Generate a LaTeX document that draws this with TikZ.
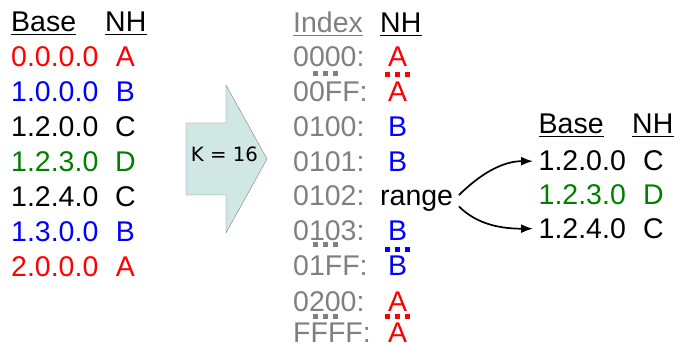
\documentclass[tikz,border=0pt]{standalone}
\usepackage{fontspec}
\setmainfont{Liberation Sans}
\newfontfamily\kfont{DejaVu Sans}
\usetikzlibrary{arrows.meta}

\definecolor{nhgreen}{RGB}{0,128,0}
\definecolor{kfill}{RGB}{208,231,227}

\begin{document}
\begin{tikzpicture}[x = 1pt, y = -1pt, > = {Latex[length = 12pt, width = 9pt]},
	every node/.style = {inner sep = 0, font = \fontsize{28.5}{34}\selectfont},
	underline/.style = {line width = 1.8pt},
	dots/.style = {line width = 5pt, dash pattern = on 5pt off 5pt},
	link/.style = {->, line width = 1.7pt, shorten < = 8pt, shorten > = 5.5pt}]

	% Margins of the picture
	
	\useasboundingbox (0, 0) rectangle (676, 347);
	
	% Definitions
	
	\def\lx{11}		% Left table, base column
	\def\lnx{125.5}		% Left table, next hop column
	\def\mx{293}		% Index column
	\def\mnx{397.5}		% Index table, next hop column
	\def\rx{538.5}		% Right table, base column
	\def\rnx{653.5}		% Right table, next hop column

	% Left table: prefixes and their next hops
	
	\node [anchor = base west] (l-base) at (\lx, 32) {Base};
	\node [anchor = base west] (l-nh) at (105, 32) {NH};
	
	\foreach \base/\nh/\col/\y [count = \i] in {0.0.0.0/A/red/66.7, 1.0.0.0/B/blue/101.6,
		1.2.0.0/C/black/136.5, 1.2.3.0/D/nhgreen/171.4, 1.2.4.0/C/black/206.3,
		1.3.0.0/B/blue/241.2, 2.0.0.0/A/red/276.1}{
		\node [anchor = base west, text = \col] (l-\i) at (\lx, \y) {\base};
		\node [anchor = base, text = \col] (lnh-\i) at (\lnx, \y) {\nh};
	}
	
	% Block arrow for the stride
	
	\draw [gray, fill = kfill, line join = miter] (186, 123) -- (226, 123) -- (226, 85) -- (267, 159)
		-- (226, 233) -- (226, 195) -- (186, 195) -- cycle;
	\node [font = \kfont\fontsize{19.7}{24}\selectfont] (k) at (224.5, 154.5) {K = 16};
	
	% Index table
	
	\node [anchor = base west, text = gray] (m-index) at (\mx, 33) {Index};
	\node [anchor = base west] (m-nh) at (380, 33) {NH};
	
	\foreach \idx/\nh/\col/\y in {0000/A/red/66.7, 00FF/A/red/101.7, 0100/B/blue/137,
		0101/B/blue/171.7, 0103/B/blue/240.5, 01FF/B/blue/275, 0200/A/red/311.5, FFFF/A/red/342}{
		\node [anchor = base west, text = gray] (idx-\idx) at (\mx, \y) {\idx:};
		\node [anchor = base, text = \col] (nh-\idx) at (\mnx, \y) {\nh};
	}
	
	\node [anchor = base west, text = gray] (idx-0102) at (\mx, 205.5) {0102:};
	\node [anchor = base west] (range) at (380, 205.5) {range};
	
	% Skipped entries
	
	\draw [dots, gray] (313, 74) -- (338, 74);
	\draw [dots, red] (385, 74.5) -- (410, 74.5);
	\draw [dots, gray] (313, 244) -- (338, 244);
	\draw [dots, blue] (385, 249.5) -- (410, 249.5);
	\draw [dots, gray] (313, 316) -- (338, 316);
	\draw [dots, red] (385, 316) -- (410, 316);
	
	% Right table: prefixes behind the range
	
	\node [anchor = base west] (r-base) at (\rx, 134) {Base};
	\node [anchor = base west] (r-nh) at (632, 134) {NH};
	
	\foreach \base/\nh/\col/\y [count = \i] in {1.2.0.0/C/black/171, 1.2.3.0/D/nhgreen/204.5,
		1.2.4.0/C/black/238.5}{
		\node [anchor = base west, text = \col] (r-\i) at (\rx, \y) {\base};
		\node [anchor = base, text = \col] (rnh-\i) at (\rnx, \y) {\nh};
	}
	
	% Headings are underlined
	
	\foreach \h/\col in {l-base/black, l-nh/black, m-index/gray, m-nh/black, r-base/black, r-nh/black}
		\draw [underline, \col] ([yshift = -2.5pt] \h.base west) -- ([yshift = -2.5pt] \h.base east);
	
	% Range points to the right table
	
	\draw [link] (range.east) to [out = 45, in = 180] (r-1.west);
	\draw [link] (range.east) to [out = -45, in = 180] (r-3.west);

\end{tikzpicture}
\end{document}
